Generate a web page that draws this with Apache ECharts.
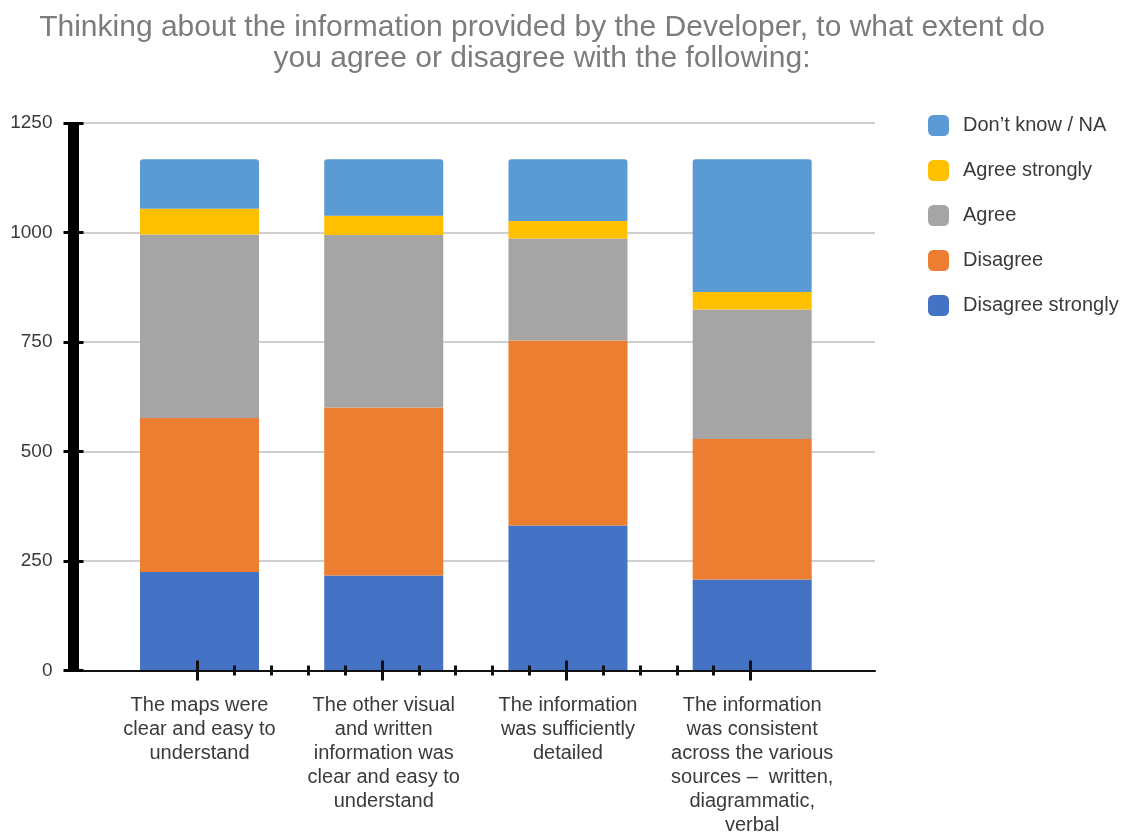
<!DOCTYPE html>
<html>
<head>
<meta charset="utf-8">
<title>Information provided by the Developer</title>
<script src="https://cdn.jsdelivr.net/npm/echarts@6/dist/echarts.min.js"></script>
<style>
  html, body { margin: 0; padding: 0; background: #ffffff; }
  #chart { width: 1127px; height: 837px; }
</style>
</head>
<body>
<div id="chart"></div>
<script>
// Survey statements (x-axis categories, with their line breaks)
const categories = [
  'The maps were\nclear and easy to\nunderstand',
  'The other visual\nand written\ninformation was\nclear and easy to\nunderstand',
  'The information\nwas sufficiently\ndetailed',
  'The information\nwas consistent\nacross the various\nsources \u2013  written,\ndiagrammatic,\nverbal'
];

// Number of responses per answer, one value per statement
const disagreeStrongly = [224, 216, 330, 207];
const disagree         = [352, 384, 423, 321];
const agree            = [419, 394, 233, 296];
const agreeStrongly    = [59, 44, 40, 40];
const dontKnow         = [113, 129, 141, 303];

// Value axis range and step
const yMin = 0;
const yMax = 1250;
const yStep = 250;

// Tick marks along the category axis: one slot per mark, every fifth one long
const xTickSlots = ['0', '1', '2', '3', '4', '5', '6', '7', '8', '9', '10', '11', '12', '13', '14', '15'];

const FONT = '"Liberation Sans", Arial, Helvetica, sans-serif';
const TEXT = '#3a3a3a';

const plotTop = 123;
const plotBottom = 837 - 670.5;

const chart = echarts.init(document.getElementById('chart'), null, { renderer: 'canvas' });

function barSeries(name, data, color, radius) {
  return {
    name: name,
    type: 'bar',
    stack: 'total',
    xAxisIndex: 0,
    yAxisIndex: 0,
    barWidth: 119,
    data: data,
    itemStyle: { color: color, borderRadius: radius || 0 },
    emphasis: { disabled: true }
  };
}

chart.setOption({
  backgroundColor: '#ffffff',
  animation: false,
  textStyle: { fontFamily: FONT },
  title: {
    text: 'Thinking about the information provided by the Developer, to what extent do\nyou agree or disagree with the following:',
    left: 537,
    top: 7,
    textAlign: 'center',
    textStyle: {
      fontFamily: FONT,
      fontSize: 30,
      fontWeight: 'normal',
      color: '#7c7c7c',
      lineHeight: 31
    }
  },
  legend: {
    orient: 'vertical',
    left: 923,
    top: 110,
    itemWidth: 21,
    itemHeight: 21,
    itemGap: 24,
    icon: 'roundRect',
    data: ['Don\u2019t know / NA', 'Agree strongly', 'Agree', 'Disagree', 'Disagree strongly'],
    textStyle: {
      fontFamily: FONT,
      fontSize: 20,
      color: TEXT,
      padding: [0, 0, 0, 9]
    },
    selectedMode: false
  },
  grid: [
    // bars
    { left: 107.4, right: 1127 - 844.3, top: plotTop, bottom: plotBottom },
    // value axis, grid lines and baseline
    { left: 73.5, right: 1127 - 875, top: plotTop, bottom: plotBottom },
    // tick marks on the baseline
    { left: 197.7, right: 1127 - 750.5, top: plotTop, bottom: plotBottom }
  ],
  xAxis: [
    {
      type: 'category',
      gridIndex: 0,
      position: 'bottom',
      data: categories,
      axisLine: { show: false },
      axisTick: { show: false },
      axisLabel: {
        margin: 23,
        fontFamily: FONT,
        fontSize: 20,
        lineHeight: 24,
        color: TEXT,
        interval: 0,
        align: 'center'
      }
    },
    {
      type: 'value',
      gridIndex: 1,
      position: 'bottom',
      min: 0,
      max: 1,
      axisLine: { show: true, onZero: false, lineStyle: { color: '#111111', width: 2 } },
      axisTick: { show: false },
      axisLabel: { show: false },
      splitLine: { show: false }
    },
    {
      type: 'category',
      gridIndex: 2,
      position: 'bottom',
      data: xTickSlots,
      boundaryGap: false,
      offset: -5,
      z: 5,
      axisLine: { show: false },
      axisLabel: { show: false },
      axisTick: { show: true, length: 10, interval: 0, lineStyle: { color: '#111111', width: 3 } }
    },
    {
      type: 'category',
      gridIndex: 2,
      position: 'bottom',
      data: xTickSlots,
      boundaryGap: false,
      offset: -10,
      z: 5,
      axisLine: { show: false },
      axisLabel: { show: false },
      axisTick: {
        show: true,
        length: 20,
        interval: function (index) { return index % 5 === 0; },
        lineStyle: { color: '#111111', width: 3 }
      }
    }
  ],
  yAxis: [
    {
      type: 'value',
      gridIndex: 0,
      position: 'left',
      min: yMin,
      max: yMax,
      interval: yStep,
      show: false
    },
    {
      type: 'value',
      gridIndex: 1,
      position: 'left',
      min: yMin,
      max: yMax,
      interval: yStep,
      axisLine: { show: true, lineStyle: { color: '#000000', width: 11, cap: 'butt' } },
      axisTick: { show: true, length: 10, lineStyle: { color: '#000000', width: 3 } },
      axisLabel: {
        margin: 21,
        fontFamily: FONT,
        fontSize: 19,
        color: TEXT,
        formatter: function (v) { return String(v); }
      },
      splitLine: { show: true, lineStyle: { color: '#cfcfcf', width: 2 } }
    },
    {
      type: 'value',
      gridIndex: 1,
      position: 'left',
      min: yMin,
      max: yMax,
      interval: yStep,
      axisLine: { show: false },
      axisTick: { show: true, inside: true, length: 10, lineStyle: { color: '#000000', width: 3 } },
      axisLabel: { show: false },
      splitLine: { show: false }
    },
    {
      type: 'value',
      gridIndex: 2,
      position: 'left',
      min: yMin,
      max: yMax,
      show: false
    }
  ],
  series: [
    barSeries('Disagree strongly', disagreeStrongly, '#4472C4'),
    barSeries('Disagree', disagree, '#ED7D31'),
    barSeries('Agree', agree, '#A5A5A5'),
    barSeries('Agree strongly', agreeStrongly, '#FFC000'),
    barSeries('Don\u2019t know / NA', dontKnow, '#5B9BD5', [3, 3, 0, 0])
  ]
});
</script>
</body>
</html>
